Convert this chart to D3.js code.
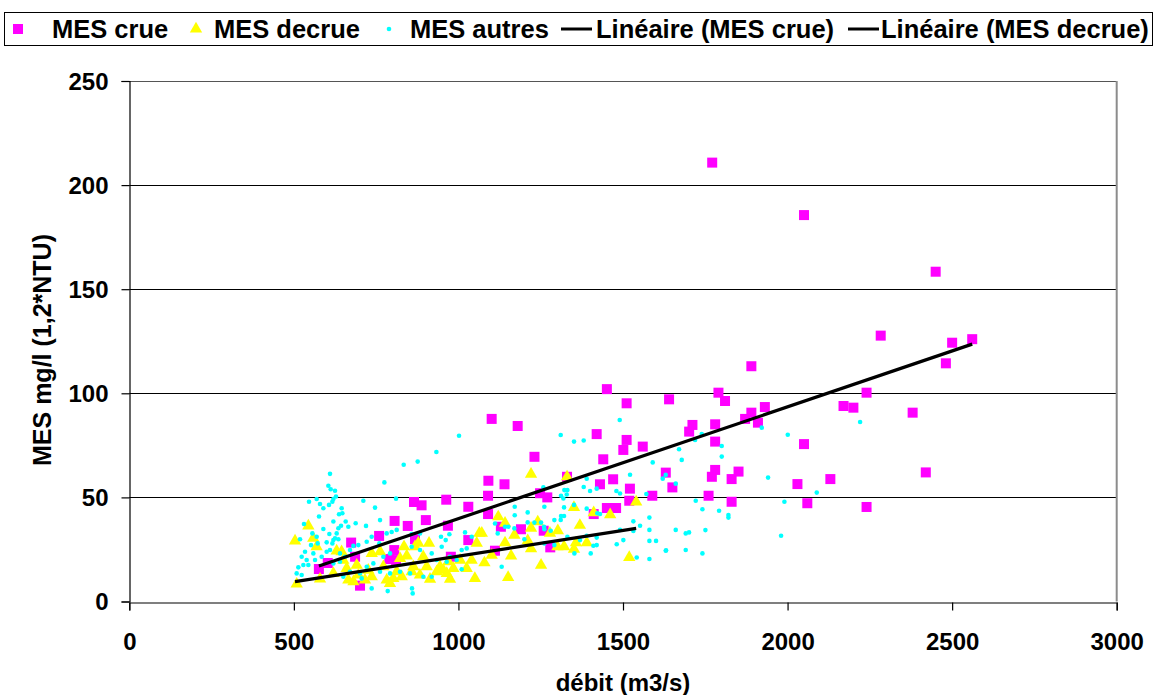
<!DOCTYPE html>
<html>
<head>
<meta charset="utf-8">
<script src="https://cdn.jsdelivr.net/npm/d3@7"></script>
<style>
  html, body { margin: 0; padding: 0; background: #fff; }
  svg { display: block; }
  text { font-family: "Liberation Sans", Arial, sans-serif; font-weight: bold; }
</style>
</head>
<body>
<svg id="chart" width="1157" height="695"></svg>
<script>
// Débit (m3/s) et MES (mg/l) — épisodes de crue
const crueX = [1771, 2050, 2450, 2283, 2561, 2500, 2481, 1890, 1790, 1810, 2240, 1931, 1890, 1871,
  1910, 2170, 2200, 1711, 1701, 1780, 1780, 2050, 1780, 1770, 1851, 1830, 2030, 2130, 1760, 1830,
  2060, 2240, 2380, 2420, 1451, 1511, 1640, 1101, 1180, 1420, 1511, 1501, 1560, 1231, 1440, 1630,
  1650, 1589, 1330, 1091, 1140, 1470, 1430, 1521, 1090, 1248, 1270, 1519, 1451, 1479, 1090, 1411,
  1129, 1190, 1259, 1111, 1279, 865, 888, 963, 1030, 806, 846, 901, 968, 759, 674, 868, 805, 790,
  810, 1030, 603, 576, 701, 686, 977];
const crueY = [210.8, 185.6, 158.4, 127.7, 126, 124.3, 114.4, 113, 100.3, 96.3, 100.3, 93.4, 90.7, 87.7,
  85.9, 93.9, 93.1, 84.8, 81.6, 85.1, 76.8, 75.6, 63.2, 59.9, 62.4, 58.8, 56.4, 58.8, 50.8, 47.9,
  47.2, 45.4, 90.7, 62, 102, 95.2, 97.1, 87.7, 84.3, 80.4, 77.6, 72.8, 74.4, 69.5, 68.3, 61.9,
  54.8, 50.8, 59.9, 58, 56.3, 58.7, 56.3, 54.2, 50.8, 52, 50, 48.4, 44.9, 44.9, 42, 42,
  35.9, 34.7, 34, 24.4, 26, 47.8, 46.2, 48.9, 45.5, 38.7, 36.3, 39.1, 36.4, 31.5, 28.3, 29.9, 24.7, 20.4,
  19.9, 29.5, 18.5, 15.6, 7.6, 21.5, 21.5];

// Épisodes de décrue
const decrueX = [503.5, 544, 508.6, 579.5, 630, 645, 650, 620, 660.5, 665.5, 681, 696, 716, 726, 736.5,
  762, 772, 782, 792, 802, 812.5, 827.7, 834.7, 843, 858, 863, 868, 878, 883, 893, 903.6, 910.7,
  913.7, 934, 944, 954, 964.5, 969.3, 974.5, 984.5, 1005, 1025, 1040, 1050, 1055.6, 1063.5, 736.5,
  691, 822.5, 559, 569, 1220.6, 1330, 1540, 1351, 1411, 1461, 1369, 1121, 1141.6, 1241, 1220.6,
  1302, 1278, 1071, 1170, 1141.6, 1210.6, 1357, 1390, 1300.6, 1321, 1351, 1220.6, 1101, 1160,
  1079, 1251, 1151, 1519];
const decrueY = [29.1, 36.3, 8.4, 10.8, 24.3, 23.9, 19.9, 13.5, 15.9, 10.3, 9.5, 12.7, 10.3, 15.1, 11.9,
  23.9, 16.7, 10.3, 8.7, 11.1, 14.3, 11.9, 26.3, 21.9, 14.3, 16.7, 26.3, 28, 12.7, 21.5, 16.7, 28,
  10.7, 14.3, 16.7, 15.1, 13.5, 19.1, 10.7, 15.9, 19.9, 15.9, 19.9, 11.1, 28, 32.8, 23.1,
  17.5, 20.7, 30.4, 26.3, 61.2, 59.9, 47.8, 45.2, 42.7, 41.7, 36.6, 40.7, 37.6, 38.3, 35.2,
  34, 32.8, 32.8, 31.9, 28.2, 29.2, 28.2, 28.2, 26.3, 26.3, 25.1, 25.4, 22.3, 21.9,
  18.6, 17.5, 11.6, 21.2];

// Autres mesures
const autresX = [1001.8, 933, 876.2, 833.7, 775, 609.8, 604.8, 611.9, 625, 628, 569.3, 546, 579.4, 589.6,
  606.8, 617, 620, 645.3, 637.2, 647.3, 576.4, 620, 657.4, 665.5, 643.3, 635.2, 687.8, 719.2, 530.8,
  556.2, 569.3, 589.6, 607.8, 630.1, 625, 635.2, 617, 620, 599.7, 572.4, 552.1, 533.9, 559.2, 538.9,
  528.8, 513.6, 508.5, 523.7, 544, 564.3, 584.5, 599.7, 609.8, 640.2, 655.4, 670.6, 680.7, 695.9,
  746.6, 761.8, 711.1, 810.4, 721.3, 736.4, 759.7, 782, 797.2, 812.4, 858, 883.3, 947.1, 961.3,
  972.5, 1020, 1040.3, 949.2, 994.7, 1009.9, 974.5, 918.8, 893.4, 859, 861, 785.1, 736.4, 706,
  650.4, 640.2, 620, 761.8, 792.2, 822.5, 853, 792.2, 771.9, 721.3, 741.5, 701, 670.6, 858, 883.3,
  918.8, 934, 964.4, 1009.9, 1025.1, 518.7, 523.7,
  1490, 1310.7, 1351.2, 1380.6, 1670.3, 1590.3, 1521.4, 1620.7, 1629.8, 1660.2, 1389.7, 1380.6,
  1399.9, 1420.1, 1479.9, 1571, 1258, 1321.9, 1331, 1329, 1311.7, 1261.1, 1171, 1171, 1210.4,
  1320.9, 1351.2, 1389.7, 1422.1, 1430.2, 1311.7, 1310.7, 1531.5, 1551.8, 1531.5, 1580.2, 1580.2,
  1660.2, 1491, 1501.1, 1480.9, 1580.2, 1600.4, 1630.8, 1580.2, 1541.7, 1420.1, 1420.1, 1410,
  1401.9, 1320.9, 1280.3, 1261.1, 1251, 1230.7, 1210.4, 1200.3, 1141.6, 1151.7, 1111.2, 1119.3,
  1169.9, 1131.4, 1291.5, 1291.5, 1389.7, 1369.5, 1331, 1352.3, 1261.1, 1318.8, 1260.1, 1491,
  1630, 2220.4, 2000.6, 1921.6, 1800, 1800, 1739.2, 1719, 1678.5, 1940.8, 2088.7, 1990.4, 1721,
  1741.3, 1791.9, 1820.3, 1820.3, 1750.4, 1690.6, 1700.7, 1980.3, 1690.6, 1741.3];
const autresY = [79.6, 71.8, 67.2, 65.7, 57.2, 61.3, 55.6, 53.9, 53.2, 50.4, 49.2, 47.9, 46.8, 44.8,
  46.4, 47.9, 49.2, 44.8, 41.9, 42.4, 40.8, 38.4, 38.4, 35.9, 36.4, 35.2, 37.6, 36.3, 37.2,
  32.7, 31.1, 34.8, 32.4, 32.7, 30.4, 29.9, 27.9, 29.5, 28.4, 27.9, 27.1, 23.9, 23.1, 19.9,
  17.5, 16.4, 13.5, 12.7, 17.5, 19.9, 21.5, 23.9, 24.7, 23.1, 21.5, 24.7, 26.7, 27.1,
  45.1, 39.1, 48.4, 49.4, 28.7, 31.1, 27.9, 32.7, 33.4, 34.4, 32.4, 32.7, 31.1, 29.5,
  32.3, 33.2, 31.1, 26.3, 19.9, 15.5, 21.5, 11.9, 11.9, 6.3, 3.9, 5.0, 6.3, 11.1,
  11.9, 19.1, 18.3, 14.3, 13.5, 14.3, 13.5, 23.1, 21.5, 16.7, 18.3, 13.5, 14.3, 26.3, 24.7,
  23.1, 19.9, 19.1, 24.7, 25.5, 29.9, 21.5,
  87.2, 80, 76.8, 77.3, 73.1, 66.8, 60.9, 59, 60.8, 56.6, 59, 55,
  53.1, 54.2, 53.1, 51.6, 54.8, 53.5, 53.5, 51.4, 50.8, 45.5, 45.5, 41.4, 42.8,
  45.2, 46.4, 44.6, 42.4, 42, 41.1, 39.2, 38.5, 36.4, 33.9, 40.3, 34.4,
  34.4, 34.4, 29.5, 27.5, 29.1, 29.1, 24.6, 20.4, 21.1, 30.7, 27.1, 26.8,
  23.1, 41.1, 34, 34.7, 37.9, 37.9, 38, 29.9, 35.9, 35.9, 37.5, 32.7,
  35.1, 16.7, 39.1, 27.1, 31.6, 29.5, 31.1, 23.1, 27.9, 49.5, 35.9, 51.9,
  24.4, 86.2, 80.1, 83.5, 74.7, 69.6, 80.4, 77.6, 68, 59.5, 52.3, 47.9, 48.4,
  44.3, 43.6, 41.5, 40.3, 34.3, 32.7, 33.2, 31.6, 24.7, 23.1];

// Droites de régression linéaire : [pente, ordonnée à l'origine]
const trendCrue = [0.0537, -13.9];
const trendDecrue = [0.0247, -2.9];

const xTicks = [0, 500, 1000, 1500, 2000, 2500, 3000];
const yTicks = [0, 50, 100, 150, 200, 250];

const legendLabels = ["MES crue", "MES decrue", "MES autres", "Linéaire (MES crue)", "Linéaire (MES decrue)"];

const COL_CRUE = "#ff00ff", COL_DECRUE = "#ffff00", COL_AUTRES = "#00ffff";
const FONT = 24, LEGEND_FONT = 25.5, YTITLE_FONT = 25;

const svg = d3.select("#chart");
const plotLeft = 129.3, plotRight = 1116.7, plotTop = 81, plotBottom = 601.5;

const x = d3.scaleLinear().domain([0, 3000]).range([plotLeft, plotRight]);
const y = d3.scaleLinear().domain([0, 250]).range([plotBottom, plotTop]);

// Grille horizontale
svg.append("g").selectAll("line").data(yTicks.filter(d => d > 0)).join("line")
  .attr("x1", plotLeft).attr("x2", plotRight)
  .attr("y1", d => Math.round(y(d)) + 0.5).attr("y2", d => Math.round(y(d)) + 0.5)
  .attr("stroke", d => d === 250 ? "#555" : "#000").attr("stroke-width", 1);

// Bord droit de la zone de tracé
svg.append("line").attr("x1", plotRight).attr("x2", plotRight).attr("y1", plotTop).attr("y2", plotBottom)
  .attr("stroke", "#8c8c8c").attr("stroke-width", 2);

// Axes
const xAxis = svg.append("g").attr("transform", `translate(0,${Math.round(plotBottom) + 0.5})`)
  .call(d3.axisBottom(x).tickValues(xTicks).tickSize(8).tickPadding(22).tickFormat(d3.format("d")));
const yAxis = svg.append("g").attr("transform", `translate(${Math.round(plotLeft) + 0.5},0)`)
  .call(d3.axisLeft(y).tickValues(yTicks).tickSize(8).tickPadding(13).tickFormat(d3.format("d")));
[xAxis, yAxis].forEach(a => {
  a.select(".domain").attr("stroke", "#000").attr("stroke-width", 1.2);
  a.selectAll(".tick line").attr("stroke", "#000").attr("stroke-width", 1.2);
  a.selectAll(".tick text").attr("fill", "#000").style("font-size", FONT + "px")
    .style("font-family", '"Liberation Sans", Arial, sans-serif').style("font-weight", "bold");
});
xAxis.selectAll(".tick text").attr("dy", "0.71em");
yAxis.selectAll(".tick text").attr("dy", "0.35em");

// Séries
const crue = crueX.map((v, i) => [v, crueY[i]]);
const decrue = decrueX.map((v, i) => [v, decrueY[i]]);
const autres = autresX.map((v, i) => [v, autresY[i]]);

const sq = 10;
svg.append("g").selectAll("rect").data(crue).join("rect")
  .attr("x", d => x(d[0]) - sq / 2).attr("y", d => y(d[1]) - sq / 2)
  .attr("width", sq).attr("height", sq).attr("fill", COL_CRUE);

const tri = d3.symbol().type(d3.symbolTriangle).size(66);
svg.append("g").selectAll("path").data(decrue).join("path")
  .attr("d", tri).attr("transform", d => `translate(${x(d[0])},${y(d[1])})`)
  .attr("fill", COL_DECRUE);

svg.append("g").selectAll("circle").data(autres).join("circle")
  .attr("cx", d => x(d[0])).attr("cy", d => y(d[1])).attr("r", 2.3)
  .attr("fill", COL_AUTRES);

// Courbes de tendance, tracées sur l'étendue de chaque série
function trend(data, coef) {
  const ext = d3.extent(data, d => d[0]);
  return ext.map(v => [v, coef[0] * v + coef[1]]);
}
const lineGen = d3.line().x(d => x(d[0])).y(d => y(d[1]));
[[crue, trendCrue], [decrue, trendDecrue]].forEach(([data, coef]) => {
  svg.append("path").attr("d", lineGen(trend(data, coef)))
    .attr("fill", "none").attr("stroke", "#000").attr("stroke-width", 3.2);
});

// Titres des axes
svg.append("text").attr("x", (plotLeft + plotRight) / 2).attr("y", 691).attr("text-anchor", "middle")
  .style("font-size", FONT + "px").text("débit (m3/s)");
svg.append("text").attr("transform", `translate(51,350) rotate(-90)`)
  .attr("text-anchor", "middle").style("font-size", YTITLE_FONT + "px").text("MES mg/l (1,2*NTU)");

// Légende : symbole puis libellé, sur une ligne
const lg = svg.append("g");
lg.append("rect").attr("x", 4.5).attr("y", 12.5).attr("width", 1148).attr("height", 33)
  .attr("fill", "#fff").attr("stroke", "#000").attr("stroke-width", 1);
const ly = 29;
const legendKeyX = [18, 196, 389, 561, 848];   // position de chaque symbole
const legendTextX = [52, 214, 410, 596, 881];  // début de chaque libellé
legendLabels.forEach((label, i) => {
  const g = lg.append("g");
  const kx = legendKeyX[i];
  if (i === 0) g.append("rect").attr("x", kx - 5).attr("y", ly - 5).attr("width", 10).attr("height", 10).attr("fill", COL_CRUE);
  if (i === 1) g.append("path").attr("d", tri).attr("transform", `translate(${kx},${ly})`).attr("fill", COL_DECRUE);
  if (i === 2) g.append("circle").attr("cx", kx).attr("cy", ly).attr("r", 2.3).attr("fill", COL_AUTRES);
  if (i >= 3) g.append("line").attr("x1", kx).attr("x2", kx + 31).attr("y1", ly).attr("y2", ly)
    .attr("stroke", "#000").attr("stroke-width", 3);
  g.append("text").attr("x", legendTextX[i]).attr("y", ly).attr("dy", "0.36em")
    .style("font-size", LEGEND_FONT + "px").text(label);
});
</script>
</body>
</html>
